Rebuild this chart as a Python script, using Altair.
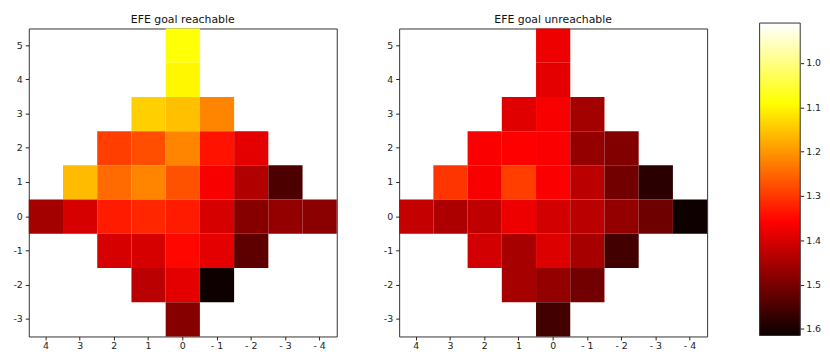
import altair as alt
import pandas as pd

x_labels = ["4", "3", "2", "1", "0", "- 1", "- 2", "- 3", "- 4"]
y_labels = ["5", "4", "3", "2", "1", "0", "-1", "-2", "-3"]

N = None
reachable = [
    [N, N, N, N, 1.085, N, N, N, N],
    [N, N, N, N, 1.098, N, N, N, N],
    [N, N, N, 1.140, 1.155, 1.219, N, N, N],
    [N, N, 1.292, 1.276, 1.219, 1.339, 1.385, N, N],
    [N, 1.161, 1.245, 1.219, 1.271, 1.365, 1.440, 1.546, N],
    [1.455, 1.400, 1.329, 1.318, 1.329, 1.400, 1.485, 1.470, 1.480],
    [N, N, 1.400, 1.400, 1.350, 1.385, 1.526, N, N],
    [N, N, N, 1.430, 1.385, 1.611, N, N, N],
    [N, N, N, N, 1.485, N, N, N, N],
]
unreachable = [
    [N, N, N, N, 1.375, N, N, N, N],
    [N, N, N, N, 1.385, N, N, N, N],
    [N, N, N, 1.390, 1.365, 1.455, N, N, N],
    [N, N, 1.363, 1.358, 1.363, 1.470, 1.490, N, N],
    [N, 1.302, 1.365, 1.292, 1.363, 1.430, 1.506, 1.581, N],
    [1.420, 1.445, 1.426, 1.375, 1.405, 1.430, 1.470, 1.511, 1.611],
    [N, N, 1.405, 1.450, 1.395, 1.450, 1.556, N, N],
    [N, N, N, 1.450, 1.470, 1.506, N, N, N],
    [N, N, N, N, 1.556, N, N, N, N],
]
cbar_ticks = [1.0, 1.1, 1.2, 1.3, 1.4, 1.5, 1.6]
vmin, vmax = 0.910, 1.615


def to_df(rows):
    recs = []
    for yi, row in enumerate(rows):
        for xi, v in enumerate(row):
            if v is not None:
                recs.append({"x": x_labels[xi], "y": y_labels[yi], "v": v})
    return pd.DataFrame(recs)


span = vmax - vmin
color_scale = alt.Scale(
    domain=[vmin, vmax - 0.746 * span, vmax - 0.365 * span, vmax],
    range=["#ffffff", "#ffff00", "#ff0000", "#0b0000"],
    interpolate="rgb",
    zero=False,
    clamp=True,
)

FONT = "DejaVu Sans"
PLOT = 311


def heat(rows, title):
    return alt.Chart(to_df(rows)).mark_rect(strokeWidth=0).encode(
        x=alt.X("x:O", scale=alt.Scale(domain=x_labels, paddingInner=0, paddingOuter=0),
                axis=alt.Axis(title=None, labelAngle=0, labelPadding=1)),
        y=alt.Y("y:O", scale=alt.Scale(domain=y_labels, paddingInner=0, paddingOuter=0),
                axis=alt.Axis(title=None)),
        color=alt.Color("v:Q", scale=color_scale, legend=None),
    ).properties(
        width=PLOT, height=PLOT,
        title=alt.TitleParams(title, fontSize=11, fontWeight="normal", font=FONT,
                              color="#111", offset=4),
    )


step = 0.0025
cy = alt.Scale(domain=[vmin, vmax], range=[-5.5, 310], nice=False, zero=False)
cbar_fill = alt.Chart(alt.sequence(vmin, vmax, step, as_="v")).transform_calculate(
    v2=f"min(datum.v + {2 * step}, {vmax})"
).mark_rect(strokeWidth=0).encode(
    y=alt.Y("v:Q", scale=cy,
            axis=alt.Axis(orient="right", values=cbar_ticks, format=".1f", title=None,
                          labelPadding=2)),
    y2="v2:Q",
    color=alt.Color("v:Q", scale=color_scale, legend=None),
)
cbar_frame = alt.Chart(alt.sequence(0, 1, 1, as_="i")).mark_rect(
    fill=None, stroke="#333", strokeWidth=1
).encode(
    y=alt.datum(vmin, scale=cy),
    y2=alt.datum(vmax),
)
cbar = alt.layer(cbar_fill, cbar_frame).properties(
    width=41, height=PLOT, view=alt.ViewConfig(stroke="transparent")
)

left = heat(reachable, "EFE goal reachable")
right = heat(unreachable, "EFE goal unreachable")

chart = alt.hconcat(
    alt.hconcat(left, right, spacing=45),
    cbar,
    spacing=51,
).properties(
    padding={"left": 4, "top": 3, "right": 0, "bottom": 0}
).configure_view(
    stroke="#333", strokeWidth=1
).configure_axis(
    domain=False, grid=False, ticks=True, tickColor="#222", tickSize=3.5,
    labelFont=FONT, labelFontSize=9.5, labelColor="#222", labelPadding=3,
)

chart.save("out.html", embed_options={"renderer": "svg", "actions": False})
